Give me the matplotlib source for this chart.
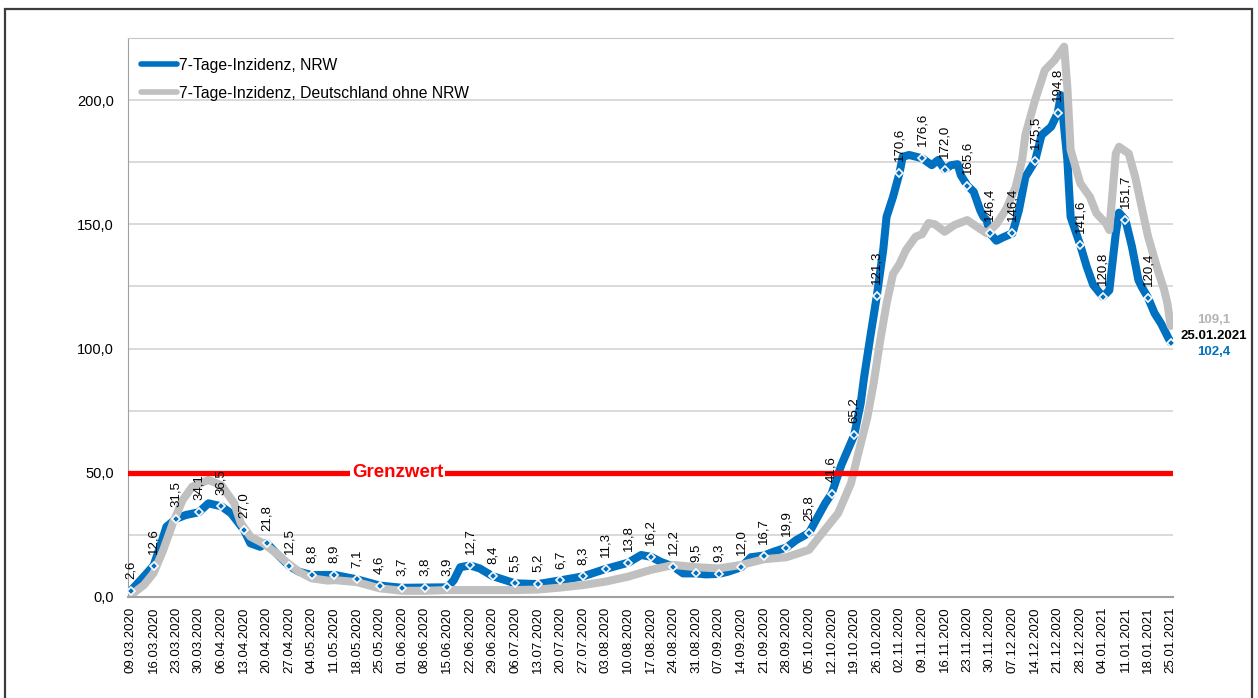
import matplotlib
matplotlib.use("Agg")
import matplotlib.pyplot as plt
import matplotlib.transforms as mtransforms
from matplotlib.lines import Line2D
from matplotlib.patches import Rectangle
from matplotlib.ticker import MultipleLocator
import pandas as pd

plt.rcParams["font.family"] = ["Liberation Sans", "DejaVu Sans"]

# weekly dates (x tick labels) and labelled NRW values
week_labels = [
    "09.03.2020", "16.03.2020", "23.03.2020", "30.03.2020", "06.04.2020", "13.04.2020",
    "20.04.2020", "27.04.2020", "04.05.2020", "11.05.2020", "18.05.2020", "25.05.2020",
    "01.06.2020", "08.06.2020", "15.06.2020", "22.06.2020", "29.06.2020", "06.07.2020",
    "13.07.2020", "20.07.2020", "27.07.2020", "03.08.2020", "10.08.2020", "17.08.2020",
    "24.08.2020", "31.08.2020", "07.09.2020", "14.09.2020", "21.09.2020", "28.09.2020",
    "05.10.2020", "12.10.2020", "19.10.2020", "26.10.2020", "02.11.2020", "09.11.2020",
    "16.11.2020", "23.11.2020", "30.11.2020", "07.12.2020", "14.12.2020", "21.12.2020",
    "28.12.2020", "04.01.2021", "11.01.2021", "18.01.2021", "25.01.2021",
]
nrw_week = [
    2.6, 12.6, 31.5, 34.1, 36.5, 27.0, 21.8, 12.5, 8.8, 8.9, 7.1, 4.6,
    3.7, 3.8, 3.9, 12.7, 8.4, 5.5, 5.2, 6.7, 8.3, 11.3, 13.8, 16.2,
    12.2, 9.5, 9.3, 12.0, 16.7, 19.9, 25.8, 41.6, 65.2, 121.3, 170.6, 176.6,
    172.0, 165.6, 146.4, 146.4, 175.5, 194.8, 141.6, 120.8, 151.7, 120.4, 102.4,
]

# NRW values between the weekly points
nrw_mid_dates = [
    "12.03.2020", "18.03.2020", "20.03.2020", "26.03.2020", "02.04.2020", "09.04.2020",
    "15.04.2020", "18.04.2020", "23.04.2020", "30.04.2020", "17.06.2020", "19.06.2020",
    "25.06.2020", "14.08.2020", "20.08.2020", "27.08.2020", "03.09.2020", "10.09.2020",
    "17.09.2020", "24.09.2020", "01.10.2020", "08.10.2020", "10.10.2020", "15.10.2020",
    "21.10.2020", "22.10.2020", "24.10.2020", "28.10.2020", "29.10.2020", "31.10.2020",
    "03.11.2020", "05.11.2020", "12.11.2020", "14.11.2020", "18.11.2020", "20.11.2020",
    "21.11.2020", "25.11.2020", "27.11.2020", "28.11.2020", "29.11.2020", "02.12.2020",
    "04.12.2020", "09.12.2020", "11.12.2020", "16.12.2020", "19.12.2020", "22.12.2020",
    "24.12.2020", "25.12.2020", "30.12.2020", "01.01.2021", "06.01.2021", "08.01.2021",
    "09.01.2021", "13.01.2021", "15.01.2021", "16.01.2021", "20.01.2021", "22.01.2021",
]
nrw_mid = [
    6.8, 20.2, 28.3, 33.0, 37.7, 33.7,
    21.6, 20.2, 17.6, 10.2, 6.8, 12.0,
    11.5, 16.9, 14.2, 9.5, 9.1, 10.2,
    16.0, 18.2, 22.9, 33.0, 37.7, 53.1,
    78.0, 88.0, 105.0, 140.0, 153.0, 161.0,
    177.2, 177.9, 173.8, 175.9, 173.8, 174.2,
    169.8, 163.1, 155.7, 153.0, 151.7, 143.4,
    144.7, 155.7, 169.1, 185.9, 189.3, 202.0,
    175.9, 153.0, 132.9, 125.6, 123.5, 146.4,
    154.7, 141.0, 127.6, 124.9, 114.2, 110.1,
]

# Deutschland ohne NRW
de_dates = [
    "09.03.2020", "13.03.2020", "16.03.2020", "19.03.2020", "22.03.2020", "25.03.2020",
    "28.03.2020", "02.04.2020", "06.04.2020", "10.04.2020", "12.04.2020", "15.04.2020",
    "19.04.2020", "23.04.2020", "26.04.2020", "30.04.2020", "04.05.2020", "09.05.2020",
    "11.05.2020", "18.05.2020", "25.05.2020", "01.06.2020", "08.06.2020", "15.06.2020",
    "22.06.2020", "29.06.2020", "06.07.2020", "13.07.2020", "20.07.2020", "27.07.2020",
    "03.08.2020", "10.08.2020", "17.08.2020", "24.08.2020", "31.08.2020", "07.09.2020",
    "14.09.2020", "21.09.2020", "28.09.2020", "05.10.2020", "09.10.2020", "14.10.2020",
    "18.10.2020", "20.10.2020", "23.10.2020", "25.10.2020", "27.10.2020", "29.10.2020",
    "31.10.2020", "02.11.2020", "04.11.2020", "07.11.2020", "09.11.2020", "11.11.2020",
    "13.11.2020", "16.11.2020", "19.11.2020", "23.11.2020", "26.11.2020", "29.11.2020",
    "02.12.2020", "05.12.2020", "08.12.2020", "10.12.2020", "11.12.2020", "14.12.2020",
    "17.12.2020", "20.12.2020", "23.12.2020", "24.12.2020", "25.12.2020", "28.12.2020",
    "31.12.2020", "02.01.2021", "05.01.2021", "06.01.2021", "08.01.2021", "09.01.2021",
    "12.01.2021", "14.01.2021", "16.01.2021", "18.01.2021", "21.01.2021", "23.01.2021",
    "24.01.2021", "25.01.2021",
]
de_values = [
    0.8, 4.8, 9.6, 18.9, 29.8, 39.0,
    44.4, 47.1, 45.0, 37.7, 29.8, 24.3,
    21.6, 17.6, 14.2, 10.2, 7.5, 6.6,
    6.8, 6.0, 3.5, 2.5, 2.5, 2.8,
    2.8, 2.8, 2.8, 3.0, 3.8, 4.8,
    6.2, 8.2, 10.9, 12.9, 12.0, 11.5,
    12.9, 15.2, 16.0, 19.0, 25.6, 33.7,
    45.8, 56.5, 72.0, 86.0, 103.0, 118.0,
    130.0, 134.0, 139.6, 145.0, 146.0, 150.5,
    150.0, 147.0, 149.7, 151.7, 149.0, 146.4,
    150.0, 156.0, 165.0, 176.0, 186.0, 200.0,
    212.0, 216.0, 221.5, 205.0, 180.0, 166.5,
    161.0, 154.4, 150.3, 147.7, 178.5, 181.2,
    178.5, 169.1, 157.0, 145.0, 131.6, 123.5,
    118.0, 109.1,
]

grenzwert = 50
blue = "#0070C0"
grey = "#C0C0C0"


def to_dt(lst):
    return pd.to_datetime(lst, format="%d.%m.%Y")


def de_num(v):
    return f"{v:.1f}".replace(".", ",")


week_dt = to_dt(week_labels)
nrw = pd.concat([
    pd.Series(nrw_week, index=week_dt),
    pd.Series(nrw_mid, index=to_dt(nrw_mid_dates)),
]).sort_index()
de = pd.Series(de_values, index=to_dt(de_dates))

fig = plt.figure(figsize=(12.58, 6.98), dpi=100)
ax = fig.add_axes([0.1017, 0.1447, 0.8307, 0.8009])

# lines
ax.plot(nrw.index, nrw.values, color=blue, lw=5.8, solid_capstyle="round",
        solid_joinstyle="round", zorder=2)
ax.plot(de.index, de.values, color=grey, lw=5.8, solid_capstyle="round",
        solid_joinstyle="round", zorder=2.5)
ax.axhline(grenzwert, color="red", lw=3.8, zorder=3)
ax.plot(week_dt, nrw_week, ls="none", marker="D", ms=4.2, mfc=blue,
        mec="white", mew=1.2, zorder=5)

# Grenzwert label
trans = mtransforms.blended_transform_factory(ax.transAxes, ax.transData)
ax.text(0.258, grenzwert, "Grenzwert", transform=trans, ha="center", va="center",
        color="red", fontweight="bold", fontsize=13.5, zorder=4,
        bbox=dict(facecolor="white", edgecolor="none", pad=1.5))

# data labels (last value is written to the right of the plot instead)
for d, v in zip(week_dt[:-1], nrw_week[:-1]):
    ax.annotate(de_num(v), (d, v), xytext=(0, 8.5), textcoords="offset points",
                rotation=90, ha="center", va="bottom", fontsize=9.5, zorder=6)

# end labels
last = week_dt[-1]
ax.annotate(de_num(de.values[-1]), (last, de.values[-1]), xytext=(31, 4),
            textcoords="offset points", ha="center", va="center", color="#B4B4B4",
            fontweight="bold", fontsize=9.5, annotation_clip=False)
ax.annotate(week_labels[-1], (last, nrw_week[-1]), xytext=(31, 4.7),
            textcoords="offset points", ha="center", va="center", color="black",
            fontweight="bold", fontsize=9.5, annotation_clip=False)
ax.annotate(de_num(nrw_week[-1]), (last, nrw_week[-1]), xytext=(31, -7),
            textcoords="offset points", ha="center", va="center", color=blue,
            fontweight="bold", fontsize=9.5, annotation_clip=False)

# axes
ax.set_xlim(week_dt[0] - pd.Timedelta(days=0.93), week_dt[-1] + pd.Timedelta(days=0.7))
ax.set_ylim(0, 225)
ax.set_xticks(week_dt)
ax.set_xticklabels(week_labels, rotation=90, fontsize=9.5)
ax.set_yticks([0, 50, 100, 150, 200])
ax.set_yticklabels([de_num(v) for v in [0, 50, 100, 150, 200]], fontsize=10.5)
ax.yaxis.set_minor_locator(MultipleLocator(25))
ax.tick_params(axis="x", length=0, pad=7)
ax.tick_params(axis="y", which="both", length=0, pad=10)
ax.grid(axis="y", which="both", color="#D0D0D0", lw=1.1, zorder=0)
ax.set_axisbelow(True)
ax.spines["right"].set_visible(False)
ax.spines["top"].set_color("#C8C8C8")
ax.spines["left"].set_color("#A0A0A0")
ax.spines["bottom"].set_color("#A0A0A0")
ax.spines["bottom"].set_linewidth(1.5)

# legend
handles = [
    Line2D([], [], color=blue, lw=4, solid_capstyle="round"),
    Line2D([], [], color=grey, lw=4, solid_capstyle="round"),
]
ax.legend(handles, ["7-Tage-Inzidenz, NRW", "7-Tage-Inzidenz, Deutschland ohne NRW"],
          loc="upper left", bbox_to_anchor=(0.0125, 0.965), frameon=False, fontsize=11.3,
          handlelength=2.3, handletextpad=0.15, labelspacing=0.85, borderpad=0,
          borderaxespad=0)

# outer frame
fig.add_artist(Rectangle((5 / 1258, -0.1), 1247 / 1258, 1.1 - 9 / 698,
                         transform=fig.transFigure, fill=False, ec="#3C3C3C", lw=1.6))

fig.savefig("out.png", dpi=100)
